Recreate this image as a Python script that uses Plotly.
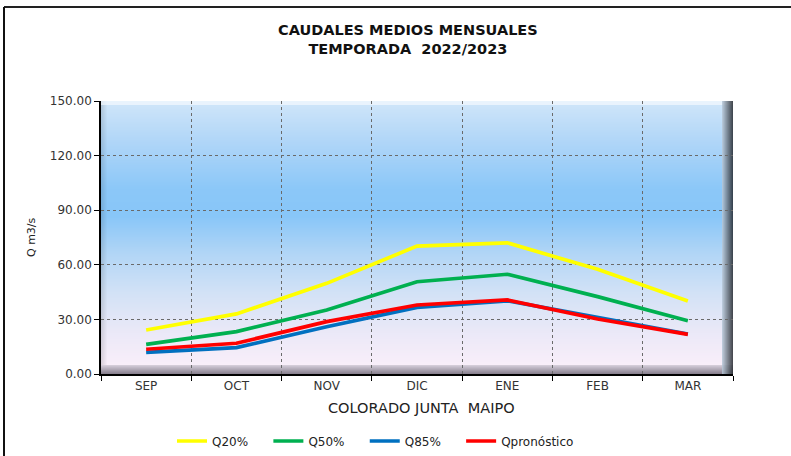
import base64, struct, zlib
import numpy as np
import plotly.graph_objects as go

months = ["SEP", "OCT", "NOV", "DIC", "ENE", "FEB", "MAR"]
q20 = [24.2, 33.0, 49.8, 70.3, 72.1, 57.5, 40.1]
q50 = [16.3, 23.3, 35.2, 50.7, 54.8, 42.5, 29.3]
q85 = [11.9, 14.5, 26.0, 36.6, 40.2, 31.0, 22.0]
qpron = [13.6, 16.9, 28.8, 37.9, 40.7, 30.2, 21.8]
yticks = [0, 30, 60, 90, 120, 150]

W, H = 791, 456
L, R, T, B = 101, 58, 101, 82
PW, PH = W - L - R, H - T - B


def hx(c):
    c = c.lstrip("#")
    return np.array([int(c[i:i + 2], 16) for i in (0, 2, 4)], float)


# background gradient image with bevel
stops = [(0.0, "#d0e6fa"), (0.15, "#b0d6f8"), (0.32, "#8cc8f8"), (0.42, "#88c6f9"),
         (0.56, "#b2d6f6"), (0.7, "#d2e2f6"), (0.85, "#ebe9f8"), (1.0, "#fdf0fa")]
img = np.zeros((PH, PW, 3), float)
for j in range(PH):
    t = j / (PH - 1)
    for k in range(len(stops) - 1):
        t0, c0 = stops[k]
        t1, c1 = stops[k + 1]
        if t0 <= t <= t1:
            f = (t - t0) / (t1 - t0)
            img[j, :, :] = hx(c0) * (1 - f) + hx(c1) * f
            break
for i in range(6):
    img[:, i, :] = img[:, i, :] * (0.88 + 0.02 * i)
for j in range(4):
    img[j, :, :] = img[j, :, :] * 0.3 + np.array([245, 250, 255]) * 0.7
bb = 9
for j in range(bb):
    f = j / (bb - 1)
    col = hx("#d4ccd8") * (1 - f) + hx("#8a8290") * f
    img[PH - bb + j, :, :] = col
rb = 11
for i in range(rb):
    f = i / (rb - 1)
    col = hx("#b4c4d4") * (1 - f) + hx("#2a2e34") * f
    img[:, PW - rb + i, :] = img[:, PW - rb + i, :] * 0.15 + col * 0.85
img = np.clip(img, 0, 255).astype(np.uint8)


def png_b64(a):
    h, w, _ = a.shape
    raw = b"".join(b"\x00" + a[r].tobytes() for r in range(h))

    def chunk(tag, data):
        return struct.pack(">I", len(data)) + tag + data + struct.pack(">I", zlib.crc32(tag + data) & 0xffffffff)
    png = b"\x89PNG\r\n\x1a\n" + chunk(b"IHDR", struct.pack(">IIBBBBB", w, h, 8, 2, 0, 0, 0)) \
        + chunk(b"IDAT", zlib.compress(raw, 9)) + chunk(b"IEND", b"")
    return "data:image/png;base64," + base64.b64encode(png).decode()


def px(x):
    return (x - L) / PW


def py(y):
    return (H - B - y) / PH


FONT = "DejaVu Sans, Liberation Sans, Arial, sans-serif"
PAD = "\u00a0" * 4

fig = go.Figure()
series = [("Q20%" + PAD, q20, "#ffff00"), ("Q50%" + PAD, q50, "#00b050"),
          ("Q85%" + PAD, q85, "#0070c0"), ("Qpronóstico", qpron, "#ff0000")]
for name, vals, col in series:
    fig.add_trace(go.Scatter(x=months, y=vals, name=name, mode="lines",
                             line=dict(color=col, width=3.7)))

fig.add_layout_image(dict(source=png_b64(img), xref="paper", yref="paper", x=0, y=1,
                          sizex=1, sizey=1, sizing="stretch", layer="below",
                          xanchor="left", yanchor="top"))

fig.update_layout(
    width=W, height=H, margin=dict(l=L, r=R, t=T, b=B),
    paper_bgcolor="white", plot_bgcolor="rgba(0,0,0,0)",
    font=dict(family=FONT, size=11, color="#222"),
    showlegend=True,
    legend=dict(orientation="h", xref="container", yref="container",
                x=172 / W, xanchor="left", y=1 - 441 / H, yanchor="middle",
                font=dict(size=12, color="#222"), bgcolor="rgba(0,0,0,0)"),
    xaxis=dict(type="category", tickson="boundaries", ticks="outside", ticklen=5,
               tickcolor="black", showline=True, linecolor="black", linewidth=1.5,
               showgrid=True, gridcolor="#6a6a6a", griddash="dot", gridwidth=1,
               tickfont=dict(size=12, color="#333"), range=[-0.5, 6.5]),
    yaxis=dict(range=[0, 150], tickvals=yticks, tickformat=".2f", ticks="outside",
               ticklen=5, tickcolor="black", showline=True, linecolor="black",
               linewidth=1.5, showgrid=True, gridcolor="#6a6a6a", griddash="dot",
               gridwidth=1, zeroline=False, tickfont=dict(size=12, color="#333")),
    annotations=[
        dict(text="<b>CAUDALES MEDIOS MENSUALES<br>TEMPORADA  2022/2023</b>",
             x=px(408), y=py(40), xref="paper", yref="paper", xanchor="center",
             yanchor="middle", showarrow=False, font=dict(size=14.5, color="#111")),
        dict(text="COLORADO JUNTA  MAIPO", x=px(421), y=py(408), xref="paper",
             yref="paper", xanchor="center", yanchor="middle", showarrow=False,
             font=dict(size=14.5, color="#222")),
        dict(text="Q m3/s", x=px(31), y=py(237), xref="paper", yref="paper",
             xanchor="center", yanchor="middle", showarrow=False, textangle=-90,
             font=dict(size=11, color="#222")),
    ],
    shapes=[
        dict(type="line", xref="paper", yref="paper", x0=px(4), x1=px(791), y0=py(7), y1=py(7),
             line=dict(color="#222", width=2)),
        dict(type="line", xref="paper", yref="paper", x0=px(4), x1=px(4), y0=py(7), y1=py(456),
             line=dict(color="#111", width=2)),
    ],
)

fig.write_html("out.html", config={"displayModeBar": False},
               post_script="document.body.style.margin='0';document.body.style.overflow='hidden';")
